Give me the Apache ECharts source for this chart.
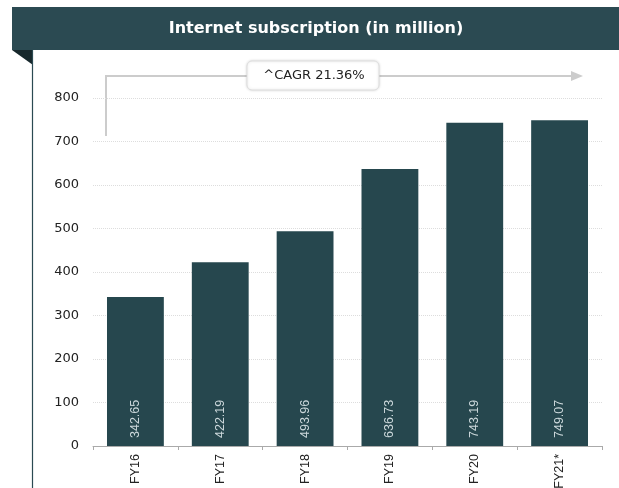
<!DOCTYPE html>
<html><head><meta charset="utf-8">
<script src="https://cdn.jsdelivr.net/npm/echarts@6/dist/echarts.min.js"></script>
<style>html,body{margin:0;padding:0;background:#fff}#c{width:619px;height:488px}</style>
</head><body><div id="c"></div>
<script>
const categories = ['FY16','FY17','FY18','FY19','FY20','FY21*'];
const values = [342.65, 422.19, 493.96, 636.73, 743.19, 749.07];
const yTicks = {min: 0, max: 800, interval: 100};
const title = 'Internet subscription (in million)';
const cagrText = '^CAGR 21.36%';

const chart = echarts.init(document.getElementById('c'));
const font = 'Liberation Sans, Arial, sans-serif';
const wide = 'DejaVu Sans, sans-serif';
chart.setOption({
  animation: false,
  grid: {left: 93, right: 17, top: 98, bottom: 42, containLabel: false, outerBoundsMode: 'none'},
  xAxis: {
    type: 'category', data: categories,
    axisLine: {lineStyle: {color: '#aaaaaa'}},
    axisTick: {show: true, alignWithLabel: false, length: 4, lineStyle: {color: '#aaaaaa'}},
    axisLabel: {rotate: 90, color: '#222', fontFamily: font, fontSize: 12.5, margin: 8}
  },
  yAxis: {
    type: 'value', min: yTicks.min, max: yTicks.max, interval: yTicks.interval,
    axisLine: {show: false}, axisTick: {show: false},
    axisLabel: {color: '#222', fontFamily: wide, fontSize: 13, margin: 14},
    splitLine: {lineStyle: {color: '#dddddd', type: 'dotted'}}
  },
  series: [{
    type: 'bar', data: values, barCategoryGap: '33%',
    itemStyle: {color: '#26474e'},
    label: {
      show: true, position: 'insideBottom', rotate: 90, align: 'left', verticalAlign: 'middle',
      distance: 8, color: '#ccd8db', fontFamily: font, fontSize: 12.5,
      formatter: p => p.value.toFixed(2)
    }
  }],
  graphic: [
    {type: 'rect', shape: {x: 12, y: 7, width: 607, height: 43}, style: {fill: '#2b4a52'}},
    {type: 'text', x: 316, y: 29, style: {text: title, fill: '#ffffff', font: 'bold 16px ' + wide, textAlign: 'center', textVerticalAlign: 'middle'}},
    {type: 'polygon', shape: {points: [[12,50],[33,50],[33,65]]}, style: {fill: '#17282c'}},
    {type: 'line', shape: {x1: 32.5, y1: 50, x2: 32.5, y2: 488}, style: {stroke: '#2b4a52', lineWidth: 1.2}},
    {type: 'polyline', shape: {points: [[106,136],[106,76],[572,76]]}, style: {stroke: '#cccccc', lineWidth: 2, fill: null}},
    {type: 'polygon', shape: {points: [[571,71],[583,76],[571,81]]}, style: {fill: '#cccccc'}},
    {type: 'rect', shape: {x: 247, y: 61, width: 132, height: 29, r: 5}, style: {fill: '#ffffff', stroke: '#dddddd', lineWidth: 1, shadowBlur: 3, shadowColor: 'rgba(0,0,0,0.15)'}},
    {type: 'text', x: 314, y: 76, style: {text: cagrText, fill: '#222', font: '13px ' + wide, textAlign: 'center', textVerticalAlign: 'middle'}}
  ]
});
</script></body></html>
